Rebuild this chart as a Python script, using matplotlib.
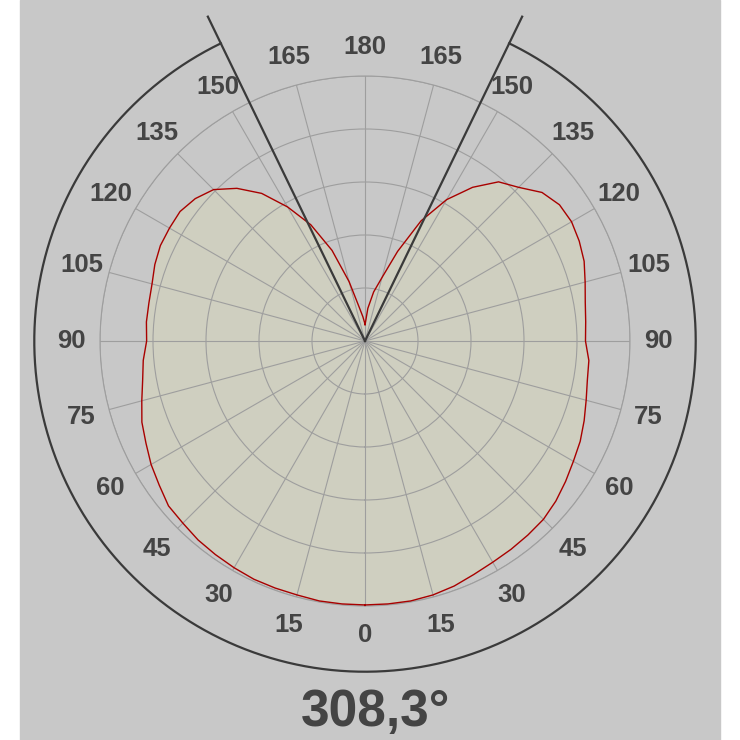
import numpy as np
import matplotlib
matplotlib.use('Agg')
import matplotlib.pyplot as plt
from matplotlib.patches import Rectangle

# luminous intensity (ring step = 50)
angles = list(range(0, 181, 5))
right = [249, 249, 249, 248, 246, 243, 241, 240, 239, 238, 235, 231, 227,
         224, 220, 216, 213, 212, 208, 209, 211, 215, 220, 223, 225, 224,
         218, 205, 196, 177, 154, 125, 90, 62, 47, 31, 15]
left = [249, 249, 249, 248, 248, 248, 247, 246, 245, 243, 242, 237, 233,
        228, 224, 218, 213, 210, 206, 207, 207, 208, 211, 213, 213, 213,
        209, 202, 188, 170, 146, 121, 91, 58, 33, 23, 16]
tick_labels = [0, 15, 30, 45, 60, 75, 90, 105, 120, 135, 150, 165, 180]
beam_angle = 308.3

txt_col = '#444444'
grid_col = '#9e9e9e'

fig = plt.figure(figsize=(7.4, 7.4), dpi=100, facecolor='white')
fig.patches.append(Rectangle((20/740, 0), 700/740, 1, transform=fig.transFigure,
                             color='#c8c8c8', zorder=-10))

ax = fig.add_axes([100/740, 134/740, 530/740, 530/740], projection='polar')
ax.set_facecolor('none')
ax.set_theta_zero_location('S')
ax.set_theta_direction(1)
ax.set_ylim(0, 250)
ax.set_rgrids([50, 100, 150, 200, 250])
ax.set_thetagrids(range(0, 360, 15))
ax.set_xticklabels([])
ax.set_yticklabels([])
ax.grid(color=grid_col, lw=0.8)
ax.spines['polar'].set_color(grid_col)
ax.spines['polar'].set_linewidth(0.8)
ax.set_axisbelow('line')

# curve: right half (C0) then left half (C180) back down
th = [np.radians(a) for a in angles] + [-np.radians(a) for a in angles[::-1]]
rr = right + left[::-1]
ax.fill(th, rr, color='#cfcfc0', zorder=1)
ax.plot(th, rr, color='#a80000', lw=1.0, zorder=3)

# angle labels
for a in tick_labels:
    signs = [1] if a in (0, 180) else [1, -1]
    for s in signs:
        ax.text(np.radians(s * a), 277, str(a), ha='center', va='center',
                fontsize=18.5, fontweight='bold', color=txt_col,
                family='Liberation Sans', clip_on=False)

# beam angle marks
edge = np.radians(180 - (360 - beam_angle) / 2)
for t in (edge, -edge):
    ax.plot([t, t], [0, 340], color='#3a3a3a', lw=1.6, clip_on=False, zorder=4)
arc = np.linspace(-edge, edge, 400)
ax.plot(arc, np.full_like(arc, 312), color='#3a3a3a', lw=1.6, clip_on=False, zorder=4)

fig.text(376/740, 27/740, f"{beam_angle:.1f}°".replace('.', ','), ha='center',
         va='center', fontsize=37, fontweight='bold', color=txt_col,
         family='Liberation Sans')

fig.savefig('out.png', dpi=100, facecolor=fig.get_facecolor())
